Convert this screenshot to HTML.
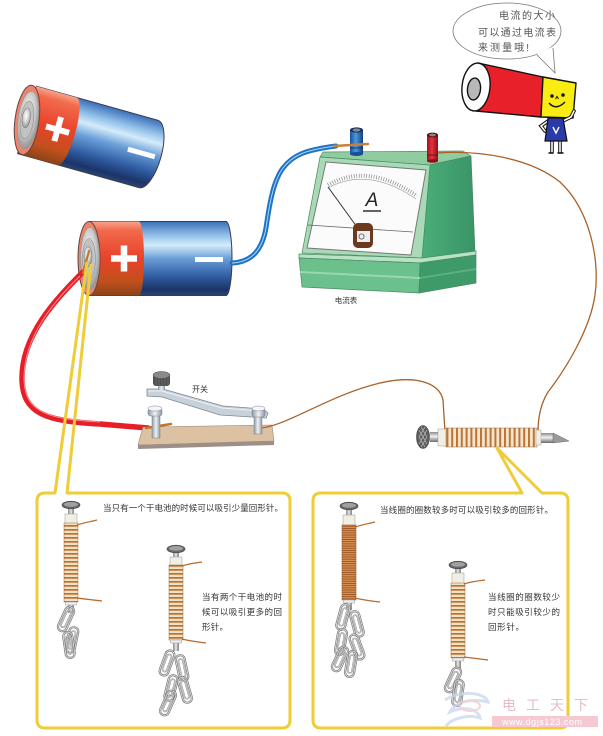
<!DOCTYPE html>
<html><head><meta charset="utf-8">
<style>
html,body{margin:0;padding:0;background:#fff;}
svg{display:block;}
text{font-family:"Liberation Sans","Noto Sans CJK SC",sans-serif;}
</style></head><body>
<svg width="603" height="736" viewBox="0 0 603 736" xmlns="http://www.w3.org/2000/svg">
<defs>
 <linearGradient id="gRed" x1="0" y1="0" x2="0" y2="1">
  <stop offset="0" stop-color="#f6a48c"/>
  <stop offset="0.12" stop-color="#f26a4c"/>
  <stop offset="0.5" stop-color="#e8422a"/>
  <stop offset="0.8" stop-color="#c2501c"/>
  <stop offset="1" stop-color="#8a4418"/>
 </linearGradient>
 <linearGradient id="gBlue" x1="0" y1="0" x2="0" y2="1">
  <stop offset="0" stop-color="#3b6fb8"/>
  <stop offset="0.18" stop-color="#8fbde8"/>
  <stop offset="0.32" stop-color="#d4ecfa"/>
  <stop offset="0.5" stop-color="#6a9fd8"/>
  <stop offset="0.75" stop-color="#2e5aa0"/>
  <stop offset="0.92" stop-color="#1c3468"/>
  <stop offset="1" stop-color="#2a4572"/>
 </linearGradient>
 <radialGradient id="gSilver" cx="0.45" cy="0.4" r="0.65">
  <stop offset="0" stop-color="#ffffff"/>
  <stop offset="0.5" stop-color="#d2d2d2"/>
  <stop offset="1" stop-color="#8a8a8a"/>
 </radialGradient>
 <linearGradient id="gShaftV" x1="0" y1="0" x2="1" y2="0">
  <stop offset="0" stop-color="#7a7a7a"/>
  <stop offset="0.5" stop-color="#eeeeee"/>
  <stop offset="1" stop-color="#6a6a6a"/>
 </linearGradient>
 <linearGradient id="gShaftH" x1="0" y1="0" x2="0" y2="1">
  <stop offset="0" stop-color="#8a8a8a"/>
  <stop offset="0.45" stop-color="#f2f2f2"/>
  <stop offset="1" stop-color="#6a6a6a"/>
 </linearGradient>
 <linearGradient id="gPost" x1="0" y1="0" x2="1" y2="0">
  <stop offset="0" stop-color="#8e98a4"/>
  <stop offset="0.5" stop-color="#f0f3f6"/>
  <stop offset="1" stop-color="#8a94a0"/>
 </linearGradient>
 <linearGradient id="gBlueT" x1="0" y1="0" x2="1" y2="0">
  <stop offset="0" stop-color="#1a4f98"/>
  <stop offset="0.45" stop-color="#4a9ae0"/>
  <stop offset="1" stop-color="#163e7a"/>
 </linearGradient>
 <linearGradient id="gRedT" x1="0" y1="0" x2="1" y2="0">
  <stop offset="0" stop-color="#9a1420"/>
  <stop offset="0.45" stop-color="#e8303c"/>
  <stop offset="1" stop-color="#8a1018"/>
 </linearGradient>
 <linearGradient id="gSide" x1="0" y1="0" x2="1" y2="0">
  <stop offset="0" stop-color="#4aae7a"/>
  <stop offset="1" stop-color="#3a9466"/>
 </linearGradient>
 <pattern id="coilH" patternUnits="userSpaceOnUse" width="14" height="4">
  <rect width="14" height="4" fill="#efe2c6"/>
  <rect y="0" width="14" height="1.7" fill="#c0702e"/>
 </pattern>
 <pattern id="coilD" patternUnits="userSpaceOnUse" width="14" height="2.2">
  <rect width="14" height="2.2" fill="#d89052"/>
  <rect y="0" width="14" height="0.9" fill="#9a5522"/>
 </pattern>
 <pattern id="coilV" patternUnits="userSpaceOnUse" width="4.8" height="20">
  <rect width="4.8" height="20" fill="#f2e8d2"/>
  <rect x="0" width="2" height="20" fill="#bf7232"/>
 </pattern>
 <g id="pc">
  <rect x="-4.5" y="-13" width="9" height="26" rx="4.5" fill="none" stroke="#7a7a7a" stroke-width="2.2"/>
  <rect x="-4.5" y="-13" width="9" height="26" rx="4.5" fill="none" stroke="#e2e2e2" stroke-width="0.8"/>
  <rect x="-2.2" y="-9" width="4.4" height="18" rx="2.2" fill="none" stroke="#888" stroke-width="1.6"/>
  <rect x="-2.2" y="-9" width="4.4" height="18" rx="2.2" fill="none" stroke="#e6e6e6" stroke-width="0.6"/>
 </g>
</defs>

<!-- ===== Battery 1 (tilted) ===== -->
<g transform="translate(27,120) rotate(15.6)">
 <path d="M0,-35 L126,-35 A13,35 0 0 1 126,35 L0,35 Z" fill="url(#gBlue)" stroke="#3a3a4a" stroke-width="1"/>
 <path d="M0,-35 L42,-35 A8,35 0 0 1 42,35 L0,35 Z" fill="url(#gRed)"/>
 <ellipse cx="0" cy="0" rx="12" ry="35" transform="rotate(-8)" fill="#f0826a" stroke="#5a4a4a" stroke-width="1"/>
 <ellipse cx="1" cy="0" rx="10" ry="29" transform="rotate(-8)" fill="url(#gSilver)" stroke="#999" stroke-width="0.6"/>
 <ellipse cx="0" cy="0" rx="6.5" ry="19" transform="rotate(-8)" fill="#c2c2c2" stroke="#888" stroke-width="0.5"/>
 <ellipse cx="-1" cy="-2" rx="4" ry="10" transform="rotate(-8)" fill="url(#gSilver)" stroke="#777" stroke-width="0.5"/>
 <path d="M32,-12 V13 M20,1 H44" stroke="#fff" stroke-width="6"/>
 <path d="M105,1 H133" stroke="#fff" stroke-width="5"/>
</g>

<!-- ===== Battery 2 ===== -->
<g transform="translate(89,258.5)">
 <path d="M0,-37 L137,-37 A6,37 0 0 1 137,37 L0,37 Z" fill="url(#gBlue)" stroke="#3a3a4a" stroke-width="1"/>
 <path d="M0,-37 L50,-37 A5,37 0 0 1 50,37 L0,37 Z" fill="url(#gRed)"/>
 <ellipse cx="0" cy="0" rx="11" ry="37" fill="#f0826a" stroke="#5a4a4a" stroke-width="1"/>
 <ellipse cx="1" cy="0" rx="9.5" ry="31" fill="url(#gSilver)" stroke="#999" stroke-width="0.6"/>
 <ellipse cx="0" cy="0" rx="6.5" ry="20" fill="#c2c2c2" stroke="#888" stroke-width="0.5"/>
 <ellipse cx="-1" cy="-2" rx="4" ry="10" fill="url(#gSilver)" stroke="#777" stroke-width="0.5"/>
 <path d="M35,-13 V13 M22,0 H48" stroke="#fff" stroke-width="6.5"/>
 <path d="M106,1 H134" stroke="#fff" stroke-width="5"/>
</g>

<!-- ===== Blue wire ===== -->
<path d="M232,263 C252,262 262,250 266,228 C270,200 274,180 283,168 C293,155 305,150 336,146" fill="none" stroke="#1f74c4" stroke-width="5" stroke-linecap="round"/>
<path d="M232,263 C252,262 262,250 266,228 C270,200 274,180 283,168 C293,155 305,150 336,146" fill="none" stroke="#a8d6f6" stroke-width="1"/>

<!-- ===== Ammeter ===== -->
<g stroke="#4a8a64" stroke-width="0.7" stroke-linejoin="round">
 <polygon points="323,152 463,151 471,156 430,165 320,157" fill="#8fcca0"/>
 <polygon points="430,165 471,156 475,252 422,258" fill="url(#gSide)"/>
 <polygon points="320,157 430,165 422,258 302,253" fill="#a8dab6"/>
 <polygon points="299,254 422,258 476,251 476,255 420,263 299,258" fill="#b8e2c4"/>
 <polygon points="299,258 420,263 419,293 302,287" fill="#6cc08c"/>
 <polygon points="420,263 476,255 476,283 419,293" fill="#3f9a6a"/>
</g>
<polygon points="300,271 420,277 420,279 300,273" fill="#9ad6ae"/>
<polygon points="420,277 476,268 476,270 420,279" fill="#5ab080"/>
<polygon points="326,162 426,170 411,255 307,248" fill="#fbfbfb" stroke="#777" stroke-width="1"/>
<path d="M328,185 Q368,162 417,196" fill="none" stroke="#888" stroke-width="4" stroke-dasharray="0.7 1.8"/>
<path d="M328,188 Q368,166 416,199" fill="none" stroke="#999" stroke-width="0.6"/>
<text x="372" y="206" font-size="19" font-style="italic" text-anchor="middle" fill="#222">A</text>
<line x1="363" y1="211" x2="381" y2="211" stroke="#333" stroke-width="1.5"/>
<line x1="308" y1="225" x2="413" y2="232" stroke="#666" stroke-width="0.8"/>
<line x1="328" y1="187" x2="357" y2="227" stroke="#333" stroke-width="1"/>
<rect x="353" y="223" width="20" height="25" rx="5" fill="#6b3a1c"/>
<rect x="357" y="231" width="13" height="11" fill="#eeeeee"/>
<circle cx="361.5" cy="236.5" r="2.6" fill="none" stroke="#555" stroke-width="0.8"/>
<text x="346" y="303" font-size="7.5" text-anchor="middle" fill="#333">电流表</text>

<!-- terminals -->
<rect x="350" y="130" width="13" height="24" fill="url(#gBlueT)"/>
<ellipse cx="356.5" cy="154" rx="6.5" ry="2" fill="#1a4f98"/>
<ellipse cx="356.5" cy="130" rx="6.5" ry="2.6" fill="#10305e"/>
<ellipse cx="356.5" cy="130" rx="4" ry="1.6" fill="#888"/>
<line x1="350" y1="148" x2="363" y2="148" stroke="#0c2a55" stroke-width="0.8"/>
<path d="M334,146 L368,144" stroke="#c8803a" stroke-width="2.5" stroke-linecap="round"/>

<path d="M437,153 C480,150 530,158 560,182 C590,210 600,260 595,295 C590,330 565,370 548,392 C540,405 538,420 538,432" fill="none" stroke="#a8622a" stroke-width="1.3"/>
<rect x="427" y="135" width="11" height="26" fill="url(#gRedT)"/>
<ellipse cx="432.5" cy="161" rx="5.5" ry="1.8" fill="#8a1018"/>
<ellipse cx="432.5" cy="135" rx="5.5" ry="2.4" fill="#5a1010"/>
<ellipse cx="432.5" cy="135" rx="3.4" ry="1.4" fill="#888"/>
<line x1="427" y1="155" x2="438" y2="155" stroke="#5a0a10" stroke-width="0.8"/>

<!-- ===== Red wire ===== -->
<path d="M83,272 C55,300 22,335 22,378 C22,415 48,421 100,424 L148,428" fill="none" stroke="#e61e28" stroke-width="5.5" stroke-linecap="round"/>
<path d="M80,276 C52,303 24,338 24,378 C24,413 48,419 100,422" fill="none" stroke="#ffb4b4" stroke-width="0.9" opacity="0.8"/>
<path d="M83,273 L89,251" stroke="#c07830" stroke-width="2.2" stroke-linecap="round"/>

<!-- ===== Switch ===== -->
<polygon points="143,427 272,425 274,441 138,445" fill="#dcc1a2" stroke="#9a8a7a" stroke-width="0.6"/>
<polygon points="138,445 274,441 274,445 138,449" fill="#9c8f88"/>
<path d="M146,428 L171,424" stroke="#c07830" stroke-width="2.6" stroke-linecap="round"/>
<path d="M262,428 C290,424 330,395 380,383 C420,374 440,385 443,400 L445,432" fill="none" stroke="#a8622a" stroke-width="1.3"/>
<rect x="152" y="414" width="8" height="24" fill="url(#gPost)" stroke="#7d8894" stroke-width="0.5"/>
<rect x="148" y="408" width="14" height="8" rx="3" fill="url(#gPost)" stroke="#7d8894" stroke-width="0.6"/>
<ellipse cx="155" cy="408.5" rx="7" ry="2.6" fill="#f4f6f8" stroke="#7d8894" stroke-width="0.5"/>
<polygon points="147,389 163,389 223,406 263,409 268,413 266,418 220,415 162,397 147,396" fill="#c8d0da" stroke="#7d8894" stroke-width="0.8"/>
<path d="M148,391 L162,391 L222,408 L262,411" fill="none" stroke="#eef2f6" stroke-width="1"/>
<rect x="254" y="416" width="8" height="18" fill="url(#gPost)" stroke="#7d8894" stroke-width="0.5"/>
<rect x="252" y="408" width="13" height="9" rx="3" fill="url(#gPost)" stroke="#7d8894" stroke-width="0.6"/>
<ellipse cx="258.5" cy="408.5" rx="6.5" ry="2.5" fill="#f4f6f8" stroke="#7d8894" stroke-width="0.5"/>
<rect x="158" y="384" width="7" height="6" fill="url(#gPost)"/>
<rect x="153" y="374" width="17" height="12" rx="3" fill="#505050"/>
<ellipse cx="161.5" cy="375" rx="8.5" ry="3.5" fill="#8a8a8a" stroke="#444" stroke-width="0.5"/>
<path d="M156,378 V385 M159,378 V386 M162,378 V386 M165,378 V386 M168,378 V385" stroke="#777" stroke-width="0.6"/>
<text x="192" y="392" font-size="8" fill="#333">开关</text>

<!-- ===== Main nail ===== -->
<rect x="430" y="432" width="10" height="10" fill="url(#gShaftH)"/>
<ellipse cx="423" cy="437" rx="6.5" ry="11.5" fill="#5e5e5e" stroke="#3a3a3a" stroke-width="0.6"/>
<path d="M419,430 L427,444 M419,437 L425,447 M421,427 L427,437 M427,430 L419,444 M427,437 L421,447 M425,427 L419,437" stroke="#b0b0b0" stroke-width="0.8"/>
<rect x="438" y="429" width="9" height="17" fill="#f2efe4" stroke="#999" stroke-width="0.5"/>
<rect x="446" y="428" width="91" height="19" fill="url(#coilV)" stroke="#9a6a3a" stroke-width="0.5"/>
<rect x="536" y="430" width="5" height="15" fill="#f2efe4" stroke="#999" stroke-width="0.5"/>
<rect x="541" y="433" width="12" height="10" fill="url(#gShaftH)"/>
<polygon points="553,433 569,441 553,443" fill="#9a9a9a" stroke="#666" stroke-width="0.5"/>

<!-- ===== Speech bubble & character ===== -->
<ellipse cx="507" cy="31" rx="54" ry="28" fill="#fff" stroke="#777" stroke-width="0.8"/>
<polygon points="537,54 555,73 552,47" fill="#fff"/>
<path d="M537,55 L555,73 L553,48" fill="none" stroke="#777" stroke-width="0.8"/>
<text x="499" y="19" font-size="10" fill="#555" textLength="56" lengthAdjust="spacing">电流的大小</text>
<text x="478" y="36" font-size="10" fill="#555" textLength="78" lengthAdjust="spacing">可以通过电流表</text>
<text x="478" y="51" font-size="10" fill="#555" textLength="51" lengthAdjust="spacing">来测量哦!</text>

<g stroke="#111" stroke-width="1.4" stroke-linejoin="round">
 <polygon points="478,63 543,77 541,117 476,111" fill="#e8202a"/>
 <polygon points="543,77 576,83 573,118 541,117" fill="#f8ec10"/>
 <ellipse cx="476" cy="87" rx="14" ry="24" transform="rotate(6 476 87)" fill="#fff"/>
 <ellipse cx="474" cy="89" rx="6.5" ry="11" transform="rotate(6 474 89)" fill="#b8b8b8"/>
</g>
<circle cx="552" cy="96" r="1.8" fill="#111"/>
<circle cx="563" cy="95" r="1.8" fill="#111"/>
<path d="M555.5,99 L557,96.5 L558.5,99" fill="none" stroke="#111" stroke-width="1"/>
<path d="M549,103 Q556,111 565,102" fill="none" stroke="#111" stroke-width="1.4"/>
<g stroke-linecap="round" fill="none">
 <polyline points="563,121 571,117 574,111" stroke="#111" stroke-width="3.6"/>
 <polyline points="563,121 571,117 574,111" stroke="#fff" stroke-width="1.6"/>
 <polyline points="548,121 541,126 545,131" stroke="#111" stroke-width="3.6"/>
 <polyline points="548,121 541,126 545,131" stroke="#fff" stroke-width="1.6"/>
 <line x1="552" y1="140" x2="552" y2="152" stroke="#111" stroke-width="3.6"/>
 <line x1="552" y1="140" x2="552" y2="152" stroke="#fff" stroke-width="1.6"/>
 <line x1="560" y1="140" x2="560" y2="152" stroke="#111" stroke-width="3.6"/>
 <line x1="560" y1="140" x2="560" y2="152" stroke="#fff" stroke-width="1.6"/>
 <path d="M549,153 H553 M558,153 H563" stroke="#111" stroke-width="1.4"/>
</g>
<polygon points="548,118 563,118 567,141 545,141" fill="#2a3aa8" stroke="#111" stroke-width="1.2"/>
<path d="M553,127 L556,133 L559,127" fill="none" stroke="#fff" stroke-width="1.4"/>

<!-- ===== Yellow callouts ===== -->
<path d="M87,262 L55,493 L45,493 Q37,493 37,501 L37,720 Q37,728 45,728 L282,728 Q290,728 290,720 L290,501 Q290,493 282,493 L67,493 L91,264" fill="none" stroke="#eecd38" stroke-width="3" stroke-linejoin="round"/>
<path d="M497,448 L522,493 L321,493 Q313,493 313,501 L313,720 Q313,728 321,728 L560,728 Q568,728 568,720 L568,501 Q568,493 560,493 L542,493 Z" fill="none" stroke="#eecd38" stroke-width="3" stroke-linejoin="round"/>

<!-- ===== Box nails ===== -->
<g transform="translate(71,505)">
 <rect x="-2.8" y="3" width="5.6" height="10" fill="url(#gShaftV)"/>
 <rect x="-6" y="9" width="12" height="10" fill="#f1eee2" stroke="#999" stroke-width="0.5"/>
 <rect x="-7" y="18" width="14" height="79" fill="url(#coilH)" stroke="#9a6a3a" stroke-width="0.5"/>
 <rect x="-5.5" y="97" width="11" height="3" fill="#eee" stroke="#999" stroke-width="0.5"/>
 <rect x="-2.8" y="100" width="5.6" height="8" fill="url(#gShaftV)"/>
 <ellipse cx="0" cy="0" rx="9" ry="3.8" fill="#666" stroke="#444" stroke-width="0.6"/>
 <ellipse cx="0" cy="-0.6" rx="7" ry="2.4" fill="#a0a0a0"/>
 <path d="M6,20 C12,18 18,17 26,15 M6,93 C14,94 22,95 31,96" fill="none" stroke="#b86a2a" stroke-width="1.2"/>
</g>
<use href="#pc" transform="translate(66,619) rotate(25)"/>
<use href="#pc" transform="translate(72,640) rotate(12)"/>
<use href="#pc" transform="translate(69,645) rotate(-8)"/>

<g transform="translate(176,549)">
 <rect x="-2.8" y="3" width="5.6" height="10" fill="url(#gShaftV)"/>
 <rect x="-6" y="8" width="12" height="9" fill="#f1eee2" stroke="#999" stroke-width="0.5"/>
 <rect x="-7" y="16" width="14" height="75" fill="url(#coilH)" stroke="#9a6a3a" stroke-width="0.5"/>
 <rect x="-5.5" y="91" width="11" height="3" fill="#eee" stroke="#999" stroke-width="0.5"/>
 <rect x="-2.8" y="94" width="5.6" height="8" fill="url(#gShaftV)"/>
 <ellipse cx="0" cy="0" rx="9" ry="3.8" fill="#666" stroke="#444" stroke-width="0.6"/>
 <ellipse cx="0" cy="-0.6" rx="7" ry="2.4" fill="#a0a0a0"/>
 <path d="M6,17 C12,15 18,14 26,13 M6,90 C14,92 22,93 30,94" fill="none" stroke="#b86a2a" stroke-width="1.2"/>
</g>
<use href="#pc" transform="translate(167,663) rotate(20)"/>
<use href="#pc" transform="translate(182,668) rotate(-12)"/>
<use href="#pc" transform="translate(171,688) rotate(14)"/>
<use href="#pc" transform="translate(185,690) rotate(-16)"/>
<use href="#pc" transform="translate(168,703) rotate(24)"/>

<g transform="translate(349,506)">
 <rect x="-2.8" y="3" width="5.6" height="10" fill="url(#gShaftV)"/>
 <rect x="-6" y="9" width="12" height="11" fill="#f1eee2" stroke="#999" stroke-width="0.5"/>
 <rect x="-7" y="19" width="14" height="75" fill="url(#coilD)" stroke="#8a5022" stroke-width="0.5"/>
 <rect x="-5.5" y="94" width="11" height="3" fill="#eee" stroke="#999" stroke-width="0.5"/>
 <rect x="-2.8" y="97" width="5.6" height="7" fill="url(#gShaftV)"/>
 <ellipse cx="0" cy="0" rx="9" ry="3.8" fill="#666" stroke="#444" stroke-width="0.6"/>
 <ellipse cx="0" cy="-0.6" rx="7" ry="2.4" fill="#a0a0a0"/>
 <path d="M6,21 C12,19 18,18 26,16 M6,92 C14,94 22,95 31,96" fill="none" stroke="#b86a2a" stroke-width="1.2"/>
</g>
<use href="#pc" transform="translate(343,617) rotate(15)"/>
<use href="#pc" transform="translate(357,624) rotate(-15)"/>
<use href="#pc" transform="translate(341,642) rotate(10)"/>
<use href="#pc" transform="translate(357,647) rotate(-20)"/>
<use href="#pc" transform="translate(351,664) rotate(10)"/>
<use href="#pc" transform="translate(340,659) rotate(25)"/>

<g transform="translate(458,565)">
 <rect x="-2.8" y="3" width="5.6" height="10" fill="url(#gShaftV)"/>
 <rect x="-6" y="8" width="12" height="11" fill="#f1eee2" stroke="#999" stroke-width="0.5"/>
 <rect x="-7" y="18" width="14" height="75" fill="url(#coilH)" stroke="#9a6a3a" stroke-width="0.5"/>
 <rect x="-5.5" y="93" width="11" height="3" fill="#eee" stroke="#999" stroke-width="0.5"/>
 <rect x="-2.8" y="96" width="5.6" height="8" fill="url(#gShaftV)"/>
 <ellipse cx="0" cy="0" rx="9" ry="3.8" fill="#666" stroke="#444" stroke-width="0.6"/>
 <ellipse cx="0" cy="-0.6" rx="7" ry="2.4" fill="#a0a0a0"/>
 <path d="M6,19 C12,17 18,16 27,15 M6,92 C14,93 22,94 30,95" fill="none" stroke="#b86a2a" stroke-width="1.2"/>
</g>
<use href="#pc" transform="translate(453,680) rotate(25)"/>
<use href="#pc" transform="translate(458,693) rotate(8)"/>

<!-- ===== Box texts ===== -->
<g fill="#333" font-size="8.5">
 <text x="103" y="511" textLength="180" lengthAdjust="spacing">当只有一个干电池的时候可以吸引少量回形针。</text>
 <text x="202" y="600" textLength="80" lengthAdjust="spacing">当有两个干电池的时</text>
 <text x="202" y="615" textLength="80" lengthAdjust="spacing">候可以吸引更多的回</text>
 <text x="202" y="630" textLength="26" lengthAdjust="spacing">形针。</text>
 <text x="380" y="513" textLength="173" lengthAdjust="spacing">当线圈的圈数较多时可以吸引较多的回形针。</text>
 <text x="488" y="600" textLength="72" lengthAdjust="spacing">当线圈的圈数较少</text>
 <text x="488" y="615" textLength="72" lengthAdjust="spacing">时只能吸引较少的</text>
 <text x="488" y="630" textLength="36" lengthAdjust="spacing">回形针。</text>
</g>

<!-- ===== Watermark ===== -->
<g opacity="0.75">
 <path d="M445,700 C460,690 485,692 488,702 C470,698 455,702 450,712 C462,706 478,708 480,718 C470,714 452,718 446,726" fill="none" stroke="#c8d8ee" stroke-width="3"/>
 <ellipse cx="470" cy="706" rx="10" ry="5" fill="none" stroke="#f2c4cc" stroke-width="2"/>
</g>
<text x="502" y="710" font-size="14" fill="#e6bcc6" textLength="86" lengthAdjust="spacing">电 工 天 下</text>
<rect x="492" y="716" width="106" height="11" fill="#f6c9d2"/>
<text x="502" y="725" font-size="9" fill="#fff" textLength="80" lengthAdjust="spacing">www.dgjs123.com</text>
</svg>
</body></html>
